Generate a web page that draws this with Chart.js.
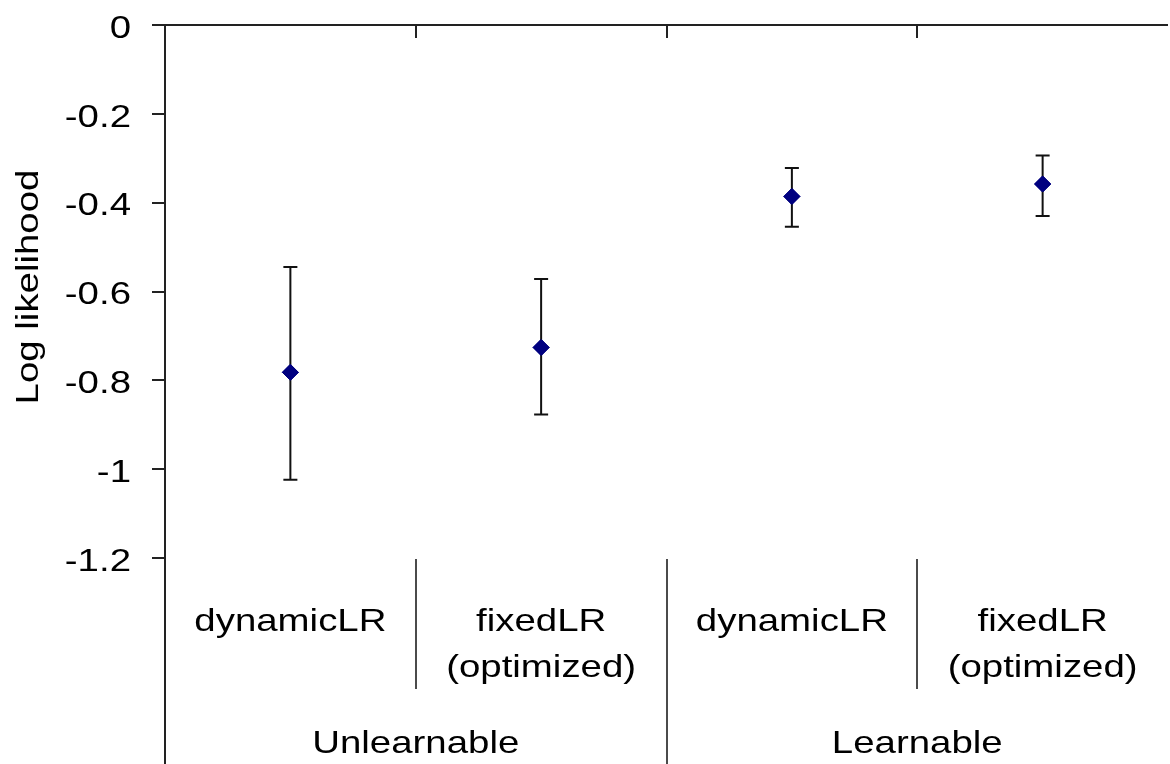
<!DOCTYPE html>
<html>
<head>
<meta charset="utf-8">
<script src="https://cdn.jsdelivr.net/npm/chart.js@4.4.1/dist/chart.umd.min.js"></script>
<style>
  html, body { margin: 0; padding: 0; background: #fff; overflow: hidden; }
  #wrap { width: 1177px; height: 764px; position: relative; }
</style>
</head>
<body>
<div id="wrap"><canvas id="myChart"></canvas></div>
<script>
// log likelihood per condition, with error bars
var categories = ['dynamicLR', 'fixedLR', 'dynamicLR', 'fixedLR'];
var catLines = [['dynamicLR'], ['fixedLR', '(optimized)'], ['dynamicLR'], ['fixedLR', '(optimized)']];
var groups = ['Unlearnable', 'Learnable'];
var values = [-0.782, -0.726, -0.386, -0.358];
var errHigh = [-0.545, -0.572, -0.322, -0.294];
var errLow = [-1.024, -0.877, -0.454, -0.430];
var yTicks = [0, -0.2, -0.4, -0.6, -0.8, -1, -1.2];

var FONT = '32px "Liberation Sans", Arial, sans-serif';
var STRETCH = 1.2;

function stretchedText(ctx, text, x, y, align, baseline, rot) {
    ctx.save();
    ctx.translate(x, y);
    if (rot) ctx.rotate(rot);
    ctx.scale(STRETCH, 1);
    ctx.font = FONT;
    ctx.fillStyle = '#000';
    ctx.textAlign = align;
    ctx.textBaseline = baseline;
    ctx.fillText(text, 0, 0);
    ctx.restore();
}

var extras = {
    id: 'extras',
    afterDatasetsDraw: function(chart) {
        var ctx = chart.ctx;
        var x = chart.scales.x, y = chart.scales.y;

        // error bars
        ctx.save();
        ctx.strokeStyle = '#111';
        ctx.lineWidth = 2;
        for (var i = 0; i < values.length; i++) {
            var px = x.getPixelForValue(i);
            var hi = y.getPixelForValue(errHigh[i]);
            var lo = y.getPixelForValue(errLow[i]);
            ctx.beginPath();
            ctx.moveTo(px, hi); ctx.lineTo(px, lo);
            ctx.moveTo(px - 7, hi); ctx.lineTo(px + 7, hi);
            ctx.moveTo(px - 7, lo); ctx.lineTo(px + 7, lo);
            ctx.stroke();
        }
        ctx.restore();
        // redraw points over the bars
        chart.getDatasetMeta(0).data.forEach(function(pt) { pt.draw(ctx, chart.chartArea); });
    },
    afterDraw: function(chart) {
        var ctx = chart.ctx;
        var x = chart.scales.x, y = chart.scales.y;
        var area = chart.chartArea;
        var h = chart.height;
        var zeroY = y.getPixelForValue(0);

        ctx.save();
        ctx.strokeStyle = '#222';
        ctx.lineWidth = 2;
        // category axis crossing at 0, ticks pointing down
        ctx.beginPath();
        ctx.moveTo(area.left, zeroY); ctx.lineTo(area.right, zeroY);
        for (var i = 1; i < categories.length; i++) {
            var bx = Math.round((x.getPixelForValue(i - 1) + x.getPixelForValue(i)) / 2);
            ctx.moveTo(bx, zeroY); ctx.lineTo(bx, zeroY + 13);
        }
        // value axis continues through the label area
        ctx.moveTo(area.left, area.bottom); ctx.lineTo(area.left, h);
        ctx.stroke();

        // dividers in label area
        ctx.strokeStyle = '#111';
        ctx.lineWidth = 1.5;
        ctx.beginPath();
        for (var j = 1; j < categories.length; j++) {
            var dx = Math.round((x.getPixelForValue(j - 1) + x.getPixelForValue(j)) / 2);
            ctx.moveTo(dx, area.bottom + 1);
            ctx.lineTo(dx, j % 2 === 0 ? h : area.bottom + 131);
        }
        ctx.stroke();
        ctx.restore();

        // y tick labels
        y.ticks.forEach(function(t) {
            var label = String(parseFloat(t.value.toFixed(1)));
            stretchedText(ctx, label, area.left - 34, y.getPixelForValue(t.value) + 4, 'right', 'middle');
        });

        // axis title
        stretchedText(ctx, 'Log likelihood', 29, 287, 'center', 'middle', -Math.PI / 2);

        // category labels
        for (var k = 0; k < catLines.length; k++) {
            var cx = x.getPixelForValue(k);
            catLines[k].forEach(function(line, n) {
                stretchedText(ctx, line, cx, area.bottom + 73 + n * 46, 'center', 'alphabetic');
            });
        }
        // group labels
        for (var g = 0; g < groups.length; g++) {
            var gx = (x.getPixelForValue(g * 2) + x.getPixelForValue(g * 2 + 1)) / 2;
            stretchedText(ctx, groups[g], gx, area.bottom + 195, 'center', 'alphabetic');
        }
    }
};

var ctx1 = document.getElementById('myChart').getContext('2d');
var myChart = new Chart(ctx1, {
    type: 'line',
    data: {
        labels: categories,
        datasets: [{
            data: values,
            showLine: false,
            pointStyle: 'rectRot',
            pointRadius: 8,
            pointHoverRadius: 8,
            pointBackgroundColor: '#000080',
            pointBorderColor: '#000080',
            pointBorderWidth: 1
        }]
    },
    options: {
        responsive: true,
        maintainAspectRatio: false,
        animation: false,
        layout: { padding: { left: 152, right: 0, top: 25, bottom: 206 } },
        plugins: {
            legend: { display: false },
            tooltip: { enabled: false }
        },
        scales: {
            x: {
                type: 'category',
                offset: true,
                display: false
            },
            y: {
                min: -1.2,
                max: 0,
                afterBuildTicks: function(scale) {
                    scale.ticks = yTicks.map(function(v) { return { value: v }; });
                },
                ticks: { display: false },
                grid: {
                    drawOnChartArea: false,
                    drawTicks: true,
                    tickLength: 13,
                    color: '#222',
                    lineWidth: 2
                },
                border: { display: true, color: '#222', width: 2 }
            }
        }
    },
    plugins: [extras]
});
</script>
</body>
</html>
